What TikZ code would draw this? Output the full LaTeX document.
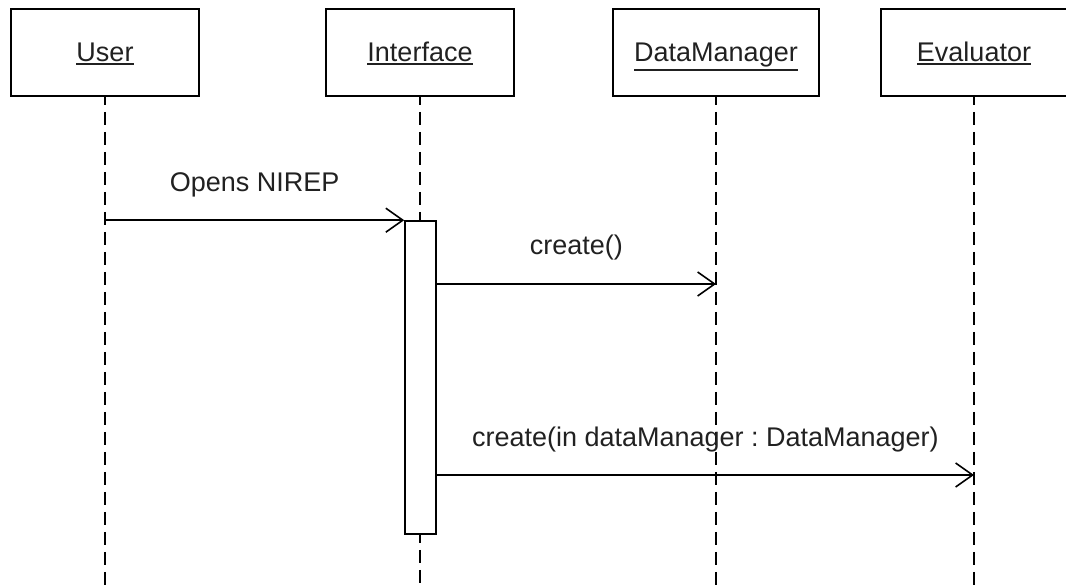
\documentclass[tikz,border=0pt]{standalone}
\usepackage{fontspec}
\setmainfont{Liberation Sans}
\usetikzlibrary{arrows.meta}

% underlined object name: rule placed just below the text's depth
\newcommand\objname[1]{%
  \setbox0=\hbox{#1}%
  \dimen0=\dp0 \advance\dimen0 by 3pt
  \rlap{\copy0}\rule[-\dimen0]{\wd0}{1.8pt}}

\tikzset{
  txt/.style={font=\fontsize{27}{32}\selectfont\frenchspacing, text=black!87, inner sep=0pt},
  objbox/.style={draw, line width=1.6pt, minimum height=87pt, inner sep=0pt},
  lifeline/.style={line width=1.6pt, dash pattern=on 13pt off 7pt, dash phase=5pt},
  actbox/.style={draw, line width=1.6pt, minimum width=31pt, minimum height=313pt, inner sep=0pt},
  msg/.style={line width=1.6pt, -{Straight Barb[length=17pt,width=24pt,line width=1.6pt]}},
  msglbl/.style={txt, midway, anchor=base, yshift=29pt}
}

\begin{document}
\begin{tikzpicture}[x=1pt, y=-1pt]
  \useasboundingbox (0,0) rectangle (1066,585);

  % object boxes
  \node[objbox, minimum width=188pt] (user)  at (105,52.5) {};
  \node[objbox, minimum width=188pt] (iface) at (420,52.5) {};
  \node[objbox, minimum width=206pt] (dm)    at (716,52.5) {};
  \node[objbox, minimum width=186pt] (eval)  at (974,52.5) {};

  % object names
  \node[txt, anchor=base] (userlbl)  at (105,62) {\objname{User}};
  \node[txt, anchor=base] (ifacelbl) at (420,62) {\objname{Interface}};
  \node[txt, anchor=base] (dmlbl)    at (716,62) {\objname{DataManager}};
  \node[txt, anchor=base] (evallbl)  at (974,62) {\objname{Evaluator}};

  % activation bar of the interface
  \node[actbox, fill=white] (act) at (420.5,377.5) {};

  % lower end of the lifelines
  \coordinate (bottom) at (0,585);

  % lifelines
  \draw[lifeline] (user.south)  -- (user.south |- bottom);
  \draw[lifeline] (iface.south) -- (iface.south |- act.north);
  \draw[lifeline] (iface.south |- act.south) -- (iface.south |- bottom);
  \draw[lifeline] (dm.south)    -- (dm.south |- bottom);
  \draw[lifeline] (eval.south)  -- (eval.south |- bottom);

  % message heights
  \coordinate (y2) at (0,284);
  \coordinate (y3) at (0,475);

  % messages
  \draw[msg] (user |- act.north) -- (act.north west)
    node[msglbl] (m1) {Opens NIREP};
  \draw[msg] (act.east |- y2) -- (dm |- y2)
    node[msglbl] (m2) {create()};
  \draw[msg] (act.east |- y3) -- (eval |- y3)
    node[msglbl] (m3) {create(in dataManager : DataManager)};
\end{tikzpicture}
\end{document}
